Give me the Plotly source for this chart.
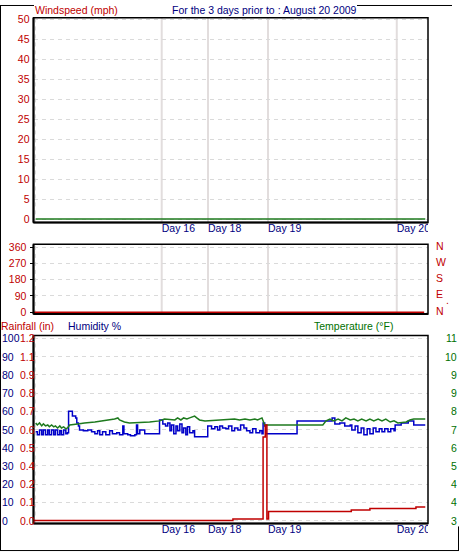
import plotly.graph_objects as go

# ---------------- data (hours since start of the 3-day window) ----------------
day_hours = [23.4, 31.85, 42.8, 66.3]
day_labels = ["Day 16", "Day 18", "Day 19", "Day 20"]

wind_t = [0.4, 71.5]
wind_speed = [0, 0]
dir_t = [0.0, 71.3]
wind_dir = [0, 0]

hum_t = [0.4, 0.7, 1.1, 1.5, 1.8, 2.2, 2.6, 2.9, 3.3, 3.7, 4.0, 4.4, 4.8, 5.1, 5.5, 5.9, 6.2,
         6.4, 7.1, 7.7, 7.9, 8.2, 8.4, 9.1, 9.9, 10.6, 11.2, 11.7, 12.1, 12.6, 13.2, 13.9, 14.4,
         15.2, 15.7, 16.3, 16.5, 17.2, 17.7, 18.5, 18.8, 19.0, 19.4, 20.3, 23.0, 23.6, 24.1,
         24.5, 24.9, 25.2, 25.6, 26.0, 26.3, 26.7, 27.1, 27.4, 27.8, 28.1, 28.5, 29.1, 29.4,
         31.8, 32.5, 33.1, 33.6, 34.0, 34.5, 35.1, 35.6, 36.2, 36.7, 37.3, 37.8, 38.4, 38.9,
         39.5, 40.0, 40.6, 41.3, 41.7, 41.9, 42.2, 42.4, 48.1, 54.5, 55.0, 55.9, 56.8, 57.8,
         58.1, 58.7, 59.2, 59.8, 60.3, 60.9, 61.4, 62.0, 62.5, 63.1, 63.6, 64.1, 64.7, 65.2,
         65.8, 66.0, 67.1, 68.4, 69.4, 71.5]
humidity = [48.8, 47.1, 49.8, 47.1, 49.8, 47.1, 49.8, 47.1, 49.8, 47.1, 49.8, 47.1, 49.3, 47.1,
            49.8, 47.7, 48.2, 60.1, 57.4, 56.3, 53.6, 52.0, 49.8, 49.3, 49.8, 48.8, 47.7, 49.3,
            47.1, 48.8, 47.1, 49.3, 47.7, 48.2, 47.1, 52.0, 47.7, 47.1, 46.6, 47.1, 52.5, 47.7,
            49.8, 47.7, 55.2, 53.1, 52.0, 53.6, 49.3, 52.5, 47.7, 52.0, 49.3, 53.1, 48.2, 50.9,
            47.1, 51.5, 48.2, 49.3, 46.1, 52.0, 50.4, 51.5, 49.8, 52.0, 50.9, 50.4, 52.0, 49.3,
            50.9, 49.8, 52.5, 50.9, 49.3, 48.2, 50.4, 48.2, 49.3, 47.7, 53.6, 52.0, 47.7, 54.7,
            56.3, 53.1, 53.6, 52.0, 52.5, 49.8, 52.0, 48.2, 50.9, 47.1, 50.4, 47.7, 50.9, 48.8,
            50.4, 48.8, 50.4, 48.8, 50.4, 49.3, 52.5, 53.6, 54.7, 52.5, 52.5]

temp_t = [0.4, 0.7, 1.1, 1.5, 1.8, 2.2, 2.6, 2.9, 3.3, 3.7, 4.0, 4.4, 4.8, 5.1, 5.5, 5.9, 6.2,
          6.6, 8.4, 9.3, 11.2, 13.0, 13.9, 14.8, 15.4, 15.7, 16.6, 17.5, 21.2, 23.0, 23.9, 25.8,
          26.3, 26.9, 27.4, 28.0, 28.5, 29.1, 29.4, 29.8, 30.3, 31.3, 35.8, 36.7, 37.6, 38.6,
          39.5, 40.4, 40.9, 41.7, 42.2, 52.8, 53.4, 54.1, 54.8, 55.6, 56.3, 57.0, 57.8, 58.5,
          59.2, 59.9, 60.7, 61.4, 62.1, 62.9, 63.6, 64.3, 65.1, 65.8, 66.5, 68.0, 68.7, 69.4,
          71.5]
temperature = [72.9, 72.0, 72.9, 71.6, 72.5, 71.6, 72.0, 71.2, 72.0, 71.2, 71.6, 70.7, 71.6,
               70.7, 71.2, 70.3, 70.7, 72.0, 72.5, 72.9, 73.3, 73.8, 74.2, 74.6, 75.1, 74.2,
               73.3, 72.9, 73.3, 73.8, 74.6, 74.2, 75.1, 74.2, 75.1, 74.6, 75.1, 75.5, 75.9,
               75.1, 74.2, 73.8, 74.2, 74.6, 74.2, 74.6, 74.2, 74.6, 74.2, 75.1, 72.0, 72.0,
               73.8, 74.6, 73.8, 74.6, 73.8, 75.1, 74.2, 74.6, 73.8, 74.6, 73.8, 74.6, 73.8,
               74.6, 73.8, 74.6, 73.3, 73.8, 72.9, 73.3, 74.2, 74.6, 74.6]

rain_t = [0.0, 36.4, 41.9, 42.3, 42.6, 42.9, 58.0, 61.4, 69.8, 71.5]
rainfall = [0.0, 0.01, 0.55, 0.63, 0.01, 0.06, 0.07, 0.08, 0.09, 0.09]

speed_ticks = [0, 5, 10, 15, 20, 25, 30, 35, 40, 45, 50]
dir_ticks = [0, 90, 180, 270, 360]
dir_names = ["N", "E", "S", "W", "N"]
hum_ticks = [0, 10, 20, 30, 40, 50, 60, 70, 80, 90, 100]
rain_ticks = [0, 0.12, 0.24, 0.36, 0.48, 0.6, 0.72, 0.84, 0.96, 1.08, 1.2]
rain_ticktext = ["0.0", "0.1", "0.2", "0.4", "0.5", "0.6", "0.7", "0.8", "0.9", "1.1", "1.2"]
temp_ticks = [30, 38, 46, 54, 62, 70, 78, 86, 94, 102, 110]
temp_ticktext = ["3", "4", "4", "5", "6", "7", "8", "9", "9", "10", "11"]

# ---------------- layout helpers ----------------
W, H = 459, 557
def fx(px):
    return px / W
def fy(py):
    return 1 - py / H

L, R = 33.5, 428.0
P1 = (13.0, 221.0)
P2 = (243.3, 314.0)
P3 = (336.0, 527.0)
S1 = (221.5, 235.0)
S3 = (527.5, 541.0)

RED = "#C00000"
NAVY = "#000080"
BLUE = "#0000C8"
GREEN = "#1E7A1E"
GREENTXT = "#007000"
GRID = "#DADADA"
DAYLINE = "#E2DDDD"
FONT = "Liberation Sans, Arial, sans-serif"
FS = 10.5

XR = [0, 72]
HR = [-1.6, 101.6]
def scale(lo, hi):
    # keep overlay axes aligned with the humidity grid
    span = hi - lo
    return [lo + span * HR[0] / 100, lo + span * HR[1] / 100]

fig = go.Figure()

fig.add_trace(go.Scatter(x=wind_t, y=wind_speed, mode="lines", line=dict(color=GREEN, width=1.5),
                         xaxis="x", yaxis="y", hoverinfo="skip"))
fig.add_trace(go.Scatter(x=dir_t, y=wind_dir, mode="lines", line=dict(color=RED, width=1.5),
                         xaxis="x2", yaxis="y2", hoverinfo="skip"))
fig.add_trace(go.Scatter(x=hum_t, y=humidity, mode="lines", line=dict(color=BLUE, width=1.5, shape="hv"),
                         xaxis="x3", yaxis="y3", hoverinfo="skip"))
fig.add_trace(go.Scatter(x=temp_t, y=temperature, mode="lines", line=dict(color=GREEN, width=1.5),
                         xaxis="x3", yaxis="y4", hoverinfo="skip"))
fig.add_trace(go.Scatter(x=rain_t, y=rainfall, mode="lines", line=dict(color=RED, width=1.5, shape="hv"),
                         xaxis="x3", yaxis="y5", hoverinfo="skip"))
# day labels (clipped at the right edge of the plot like the original)
for xa, ya in (("x4", "y6"), ("x5", "y7")):
    fig.add_trace(go.Scatter(x=day_hours, y=[0.5] * len(day_hours), mode="text", text=day_labels,
                             textposition="middle right", cliponaxis=True,
                             textfont=dict(family=FONT, size=FS, color=NAVY),
                             xaxis=xa, yaxis=ya, hoverinfo="skip"))

xcommon = dict(range=XR, domain=[fx(L), fx(R)], showgrid=False, zeroline=False, showline=False,
               showticklabels=False, ticks="", fixedrange=True)
ycommon = dict(zeroline=False, showline=False, showgrid=True, gridcolor=GRID, gridwidth=1,
               griddash="4px,4px", fixedrange=True)

layout = dict(
    width=W, height=H, margin=dict(l=0, r=0, t=0, b=0), paper_bgcolor="white",
    plot_bgcolor="rgba(0,0,0,0)", showlegend=False, font=dict(family=FONT, size=FS),
    hovermode=False,
    xaxis=dict(**xcommon, anchor="y"),
    yaxis=dict(**ycommon, anchor="x", domain=[fy(P1[1]), fy(P1[0])], range=[-0.85, 50.4],
               tickvals=speed_ticks, ticks="", ticklen=0, ticklabelstandoff=3,
               tickfont=dict(color=RED, size=FS, family=FONT)),
    xaxis2=dict(**xcommon, anchor="y2"),
    yaxis2=dict(**ycommon, anchor="x2", domain=[fy(P2[1]), fy(P2[0])], range=[-10, 376],
                tickvals=dir_ticks, ticks="outside", ticklen=3, tickcolor="black", tickwidth=1,
                ticklabelstandoff=1, tickfont=dict(color=RED, size=FS, family=FONT)),
    xaxis3=dict(**xcommon, anchor="y3"),
    yaxis3=dict(**ycommon, anchor="x3", domain=[fy(P3[1]), fy(P3[0])], range=HR,
                tickvals=hum_ticks, showticklabels=False, ticks=""),
    yaxis4=dict(overlaying="y3", anchor="x3", range=scale(30, 110), visible=False, fixedrange=True),
    yaxis5=dict(overlaying="y3", anchor="x3", range=scale(0, 1.2), visible=False, fixedrange=True),
    xaxis4=dict(**xcommon, anchor="y6"),
    yaxis6=dict(domain=[fy(S1[1]), fy(S1[0])], range=[0, 1], visible=False, fixedrange=True, anchor="x4"),
    xaxis5=dict(**xcommon, anchor="y7"),
    yaxis7=dict(domain=[fy(S3[1]), fy(S3[0])], range=[0, 1], visible=False, fixedrange=True, anchor="x5"),
)
fig.update_layout(**layout)

shapes = []
# day marker lines in the two wind panels
for xa, ya in (("x", "y"), ("x2", "y2")):
    for d in day_hours:
        shapes.append(dict(type="line", xref=xa, yref=ya + " domain", x0=d, x1=d, y0=0, y1=1,
                           line=dict(color=DAYLINE, width=2), layer="below"))
    shapes.append(dict(type="line", xref=xa, yref=ya + " domain", x0=0.35, x1=0.35, y0=0, y1=1,
                       line=dict(color=GRID, width=1, dash="4px,4px"), layer="below"))
shapes.append(dict(type="line", xref="x3", yref="y3 domain", x0=0.35, x1=0.35, y0=0, y1=1,
                   line=dict(color=GRID, width=1, dash="4px,4px"), layer="below"))

# panel frames
for top, bot in (P1, P2, P3):
    shapes.append(dict(type="rect", xref="paper", yref="paper", x0=fx(L), x1=fx(R), y0=fy(bot), y1=fy(top),
                       line=dict(color="black", width=1.5)))
    shapes.append(dict(type="line", xref="paper", yref="paper", x0=fx(L), x1=fx(L), y0=fy(bot), y1=fy(top),
                       line=dict(color="black", width=2)))
    shapes.append(dict(type="line", xref="paper", yref="paper", x0=fx(L), x1=fx(R), y0=fy(bot), y1=fy(bot),
                       line=dict(color="black", width=2)))

# outer frame pieces
frame = [((0.5, 0), (0.5, 554.5)), ((0, 554.5), (459, 554.5)), ((458.5, 530), (458.5, 554.5)),
         ((0, 0.5), (34, 0.5)), ((357, 0.5), (452, 0.5))]
for (x0, y0), (x1, y1) in frame:
    shapes.append(dict(type="line", xref="paper", yref="paper", x0=fx(x0), x1=fx(x1), y0=fy(y0), y1=fy(y1),
                       line=dict(color="black", width=1)))
fig.update_layout(shapes=shapes)

ann = []
def txt(x, y, s, color, xanchor="left", yref="paper", xref="paper", yshift=0):
    ann.append(dict(x=x, y=y, xref=xref, yref=yref, text=s, showarrow=False, xanchor=xanchor,
                    yanchor="middle", yshift=yshift, borderpad=0,
                    font=dict(family=FONT, size=FS, color=color)))

txt(fx(34), fy(5.5), "Windspeed (mph)", RED)
txt(fx(264.5), fy(5.5), "For the 3 days prior to : August 20 2009", NAVY, xanchor="center")
txt(fx(0), fy(326), "Rainfall (in)", RED)
txt(fx(67), fy(326), "Humidity %", NAVY)
txt(fx(313), fy(326), "Temperature (°F)", GREENTXT)

for v, name in zip(dir_ticks, dir_names):
    txt(fx(435), v, name, RED, yref="y2", yshift=1.5)
txt(fx(445), fy(300), ".", RED)

for v in hum_ticks:
    txt(fx(1), v, str(v), NAVY, yref="y3")
for v, s in zip(rain_ticks, rain_ticktext):
    txt(fx(18.5), v, s, RED, yref="y5")
for v, s in zip(temp_ticks, temp_ticktext):
    txt(fx(457.5), v, s, GREENTXT, xanchor="right", yref="y4")

fig.update_layout(annotations=ann)
fig.write_html("out.html", config={"displayModeBar": False, "staticPlot": True},
               post_script="document.body.style.margin='0';document.body.style.overflow='hidden';")
